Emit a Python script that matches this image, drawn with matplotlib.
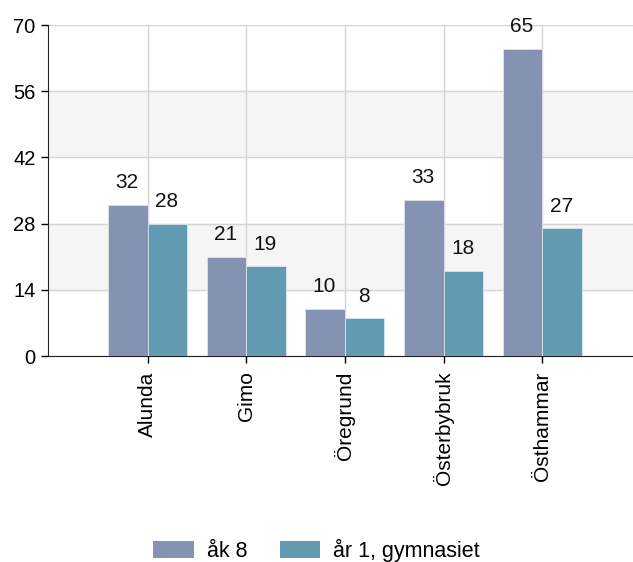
import numpy as np
import matplotlib
matplotlib.use("Agg")
import matplotlib.pyplot as plt
from matplotlib.patches import Patch

# Data
places = ["Alunda", "Gimo", "Öregrund", "Österbybruk", "Östhammar"]
ak8 = [32, 21, 10, 33, 65]
ar1 = [28, 19, 8, 18, 27]
series_names = ["åk 8", "år 1, gymnasiet"]
yticks = [0, 14, 28, 42, 56, 70]

col_ak8 = "#8593B2"
col_ar1 = "#629AB1"

plt.rcParams['font.family'] = ['Liberation Sans', 'DejaVu Sans']
fs = 15

fig = plt.figure(figsize=(6.33, 5.62), dpi=100)
ax = fig.add_axes([0.0758, 0.3665, 0.9242, 0.589])

x = np.arange(len(places))
w = 0.40

# alternating bands
for i in range(len(yticks) - 1):
    if i % 2 == 1:
        ax.axhspan(yticks[i], yticks[i + 1], color="#f5f5f5", zorder=0)

b1 = ax.bar(x - w / 2, ak8, w, color=col_ak8, edgecolor="#dfe3ec", linewidth=0.6, zorder=3)
b2 = ax.bar(x + w / 2, ar1, w, color=col_ar1, edgecolor="#dbe7ee", linewidth=0.6, zorder=3)

for bars, vals in ((b1, ak8), (b2, ar1)):
    for rect, v in zip(bars, vals):
        ax.annotate(str(v), (rect.get_x() + rect.get_width() / 2, v),
                    xytext=(-0.5, 9), textcoords="offset points",
                    ha="center", va="bottom", fontsize=fs, color="#111111")

ax.set_xlim(-1.01, 4.92)
ax.set_ylim(0, 70)
ax.set_yticks(yticks)
ax.set_xticks(x)
ax.set_xticklabels(places, rotation=90, fontsize=fs)
ax.tick_params(axis="y", labelsize=14.5, length=5, width=1, pad=4)
ax.tick_params(axis="x", length=5, width=1, pad=6)

ax.grid(True, color="#d4d4d4", linewidth=1, zorder=1)
ax.set_axisbelow(True)
for s in ["top", "right"]:
    ax.spines[s].set_visible(False)
ax.spines["left"].set_color("#222222")
ax.spines["bottom"].set_color("#222222")

handles = [Patch(facecolor=col_ak8), Patch(facecolor=col_ar1)]
fig.legend(handles, series_names, loc="center", bbox_to_anchor=(0.5, 0.021),
           ncol=2, frameon=False, fontsize=15.5, handlelength=1.9, handleheight=0.8,
           columnspacing=1.5, handletextpad=0.6)

fig.savefig("out.png", dpi=100)
